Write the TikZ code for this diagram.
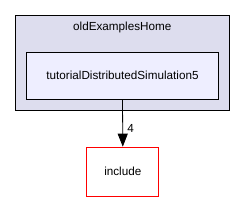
\documentclass[tikz,border=0pt]{standalone}
\usepackage{fontspec}
\setmainfont{Liberation Sans}
\usetikzlibrary{arrows.meta}
\definecolor{clusterfill}{HTML}{DDDDEE}
\definecolor{dirfill}{HTML}{EEEEFF}
\tikzset{
  clusterbox/.style={draw=black, fill=clusterfill, line width=0.8pt},
  dirbox/.style={draw=black, fill=dirfill, line width=0.8pt, inner sep=0pt},
  incbox/.style={draw=red, fill=white, line width=0.8pt, inner sep=0pt},
  lbl/.style={font=\fontsize{11.7}{14}\selectfont, inner sep=0pt},
  dep/.style={-{Triangle[length=13pt,width=10pt]}, line width=0.8pt}
}
\begin{document}
\begin{tikzpicture}[x=1pt,y=-1pt]
\useasboundingbox (0,0) rectangle (245,201);
\fill[white] (0,0) rectangle (245,201);
\draw[clusterbox] (15.7,15) rectangle (229,110);
\node[lbl] (title) at (122.3,27.7) {oldExamplesHome};
\node[dirbox, lbl, minimum width=192pt, minimum height=47pt] (tds) at (122.5,75.5) {tutorialDistributedSimulation5};
\node[incbox, lbl, minimum width=72pt, minimum height=49pt] (inc) at (122.8,171.6) {include};
\draw[dep] (tds.south) -- (inc.north);
\node[lbl] (n4) at (130.5,128) {4};
\end{tikzpicture}
\end{document}
